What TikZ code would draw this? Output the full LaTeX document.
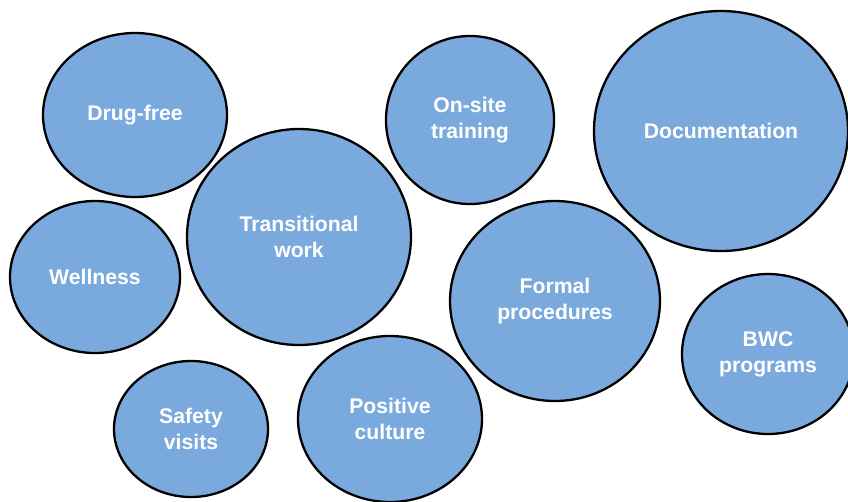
\documentclass[tikz,border=0pt]{standalone}
\usepackage{fontspec}
\setmainfont{Liberation Sans}
\usetikzlibrary{shapes.geometric}
\definecolor{bub}{RGB}{122,170,221}
\tikzset{
  bubble/.style={ellipse, draw=black, line width=2.3pt, fill=bub, inner sep=0pt,
    text=white, font=\fontsize{21.2}{26}\selectfont\bfseries, align=center}
}
\begin{document}
\begin{tikzpicture}[x=1pt,y=-1pt]
\useasboundingbox (0,0) rectangle (848,501);
\clip (0,0) rectangle (848,501);
\node[bubble, minimum width=184pt, minimum height=164pt] (drug) at (135,115) {Drug-free};
\node[bubble, minimum width=170pt, minimum height=152pt] (well) at (95,277) {Wellness};
\node[bubble, minimum width=224pt, minimum height=216pt] (trans) at (299,237) {Transitional\\work};
\node[bubble, minimum width=154pt, minimum height=136pt] (safe) at (191,429) {Safety\\visits};
\node[bubble, minimum width=184pt, minimum height=166pt] (pos) at (390,419) {Positive\\culture};
\node[bubble, minimum width=168pt, minimum height=168pt] (onsite) at (470,120) {On-site\\training};
\node[bubble, minimum width=210pt, minimum height=200pt] (formal) at (555,301) {Formal\\procedures};
\node[bubble, minimum width=254pt, minimum height=240pt] (doc) at (721,131) {Documentation};
\node[bubble, minimum width=172pt, minimum height=160pt] (bwc) at (768,354) {BWC\\programs};
\end{tikzpicture}
\end{document}
